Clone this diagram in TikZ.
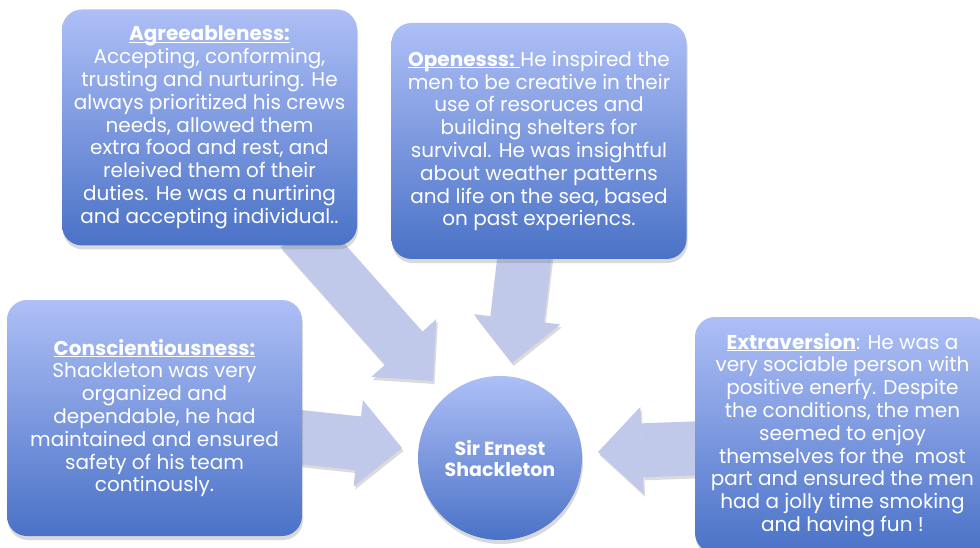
\documentclass[tikz,border=0pt]{standalone}
\usepackage{fontspec}
\setmainfont{Poppins}
\usetikzlibrary{arrows.meta,shadows,backgrounds}

\definecolor{boxtop}{RGB}{174,191,246}
\definecolor{boxbottom}{RGB}{74,114,199}
\definecolor{arrowfill}{RGB}{192,201,233}

% underlined heading that keeps the line height
\newcommand{\ulhead}[1]{\underline{\raisebox{0pt}[\height][0pt]{\textbf{#1}}}}

\begin{document}
\begin{tikzpicture}[x=1pt,y=-1pt,
    traitbox/.style={rectangle, rounded corners=20pt, minimum width=295pt, minimum height=236pt,
      top color=boxtop, bottom color=boxbottom, text=white, align=center, inner sep=0pt,
      font=\fontsize{20}{22.8}\selectfont,
      drop shadow={shadow xshift=1pt, shadow yshift=-4pt, opacity=0.3}},
    hub/.style={circle, minimum size=164pt, inner sep=0pt, top color=boxtop, bottom color=boxbottom,
      text=white, align=center, font=\bfseries\fontsize{19}{21}\selectfont,
      drop shadow={shadow xshift=1pt, shadow yshift=-4pt, opacity=0.3}},
    bigarrow/.style={line width=54pt, draw=arrowfill, -{Triangle[width=87pt,length=44pt,line width=0pt]}},
    arrowshade/.style={bigarrow, draw=black!14, transform canvas={shift={(1.5pt,-3pt)}}}]

    % fix the page
    \useasboundingbox (0,0) rectangle (980,548);

    % draw the boxes
    \node[traitbox] (agree) at (209.5,127.5) {\ulhead{Agreeableness:}\\
      Accepting, conforming,\\ trusting and nurturing. He\\ always prioritized his crews\\
      needs, allowed them\\ extra food and rest, and\\ releived them of their\\
      duties. He was a nurtiring\\ and accepting individual..};
    \node[traitbox] (open) at (539,141) {\ulhead{Openesss: }He inspired the\\
      men to be creative in their\\ use of resoruces and\\ building shelters for\\
      survival. He was insightful\\ about weather patterns\\ and life on the sea, based\\
      on past experiencs.};
    \node[traitbox] (consc) at (154.5,418) {\ulhead{Conscientiousness:}\\
      Shackleton was very\\ organized and\\ dependable, he had\\ maintained and ensured\\
      safety of his team\\ continously.};
    \node[traitbox] (extra) at (842.5,435) {\ulhead{Extraversion}: He was a\\
      very sociable person with\\ positive enerfy. Despite\\ the conditions, the men\\
      seemed to enjoy\\ themselves for the\ \ most\\ part and ensured the men\\
      had a jolly time smoking\\ and having fun !};

    % draw the centre
    \node[hub] (ernest) at (500,458) {Sir Ernest\\ Shackleton};

    % draw the arrows
    \begin{scope}[on background layer]
      \draw[arrowshade, line width=50pt] ([xshift=90pt,yshift=15pt]agree.south) -- ([xshift=-67pt,yshift=77pt]ernest.center);
      \draw[arrowshade] ([xshift=-13pt,yshift=15pt]open.south) -- ([xshift=12pt,yshift=95pt]ernest.center);
      \draw[arrowshade] ([xshift=-12pt,yshift=-18pt]consc.east) -- ([xshift=-98pt,yshift=10pt]ernest.center);
      \draw[arrowshade] ([xshift=10pt,yshift=-13pt]extra.west) -- ([xshift=98pt,yshift=6pt]ernest.center);

      \draw[bigarrow, line width=50pt] ([xshift=90pt,yshift=15pt]agree.south) -- ([xshift=-67pt,yshift=77pt]ernest.center);
      \draw[bigarrow] ([xshift=-13pt,yshift=15pt]open.south) -- ([xshift=12pt,yshift=95pt]ernest.center);
      \draw[bigarrow] ([xshift=-12pt,yshift=-18pt]consc.east) -- ([xshift=-98pt,yshift=10pt]ernest.center);
      \draw[bigarrow] ([xshift=10pt,yshift=-13pt]extra.west) -- ([xshift=98pt,yshift=6pt]ernest.center);
    \end{scope}
\end{tikzpicture}
\end{document}
